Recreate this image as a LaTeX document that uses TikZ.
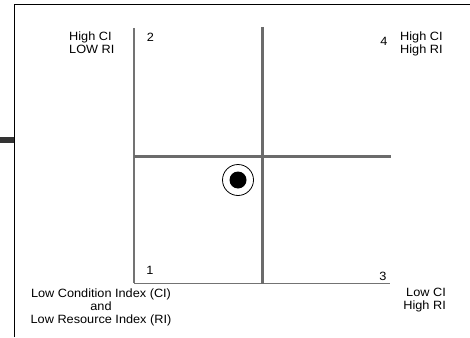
\documentclass[tikz,border=0pt]{standalone}
\usepackage{fontspec}
\setmainfont{Liberation Sans}[FakeStretch=1.06]
\usepackage{tikz}

\begin{document}
\begin{tikzpicture}[x=1pt,y=-1pt,
    label/.style={inner sep=0pt, font=\fontsize{12}{13}\selectfont},
    axis/.style={draw=black!55, line width=1.4pt},
    mid/.style={draw=black!58, line width=2.4pt}]
    \useasboundingbox (0,0) rectangle (470,337);

    % Draw the frame and the small bar on its left side
    \draw[line width=1.3pt] (14.3,337) -- (14.3,4.3) -- (470,4.3);
    \fill[black!80] (0,137) rectangle (14.3,143);

    % Corner points of the chart
    \coordinate (top) at (134,28);
    \coordinate (origin) at (134,283);
    \coordinate (right) at (390,283);
    \coordinate (midtop) at (262.3,27);
    \coordinate (midbot) at (262.3,284);
    \coordinate (midleft) at (134,156.3);
    \coordinate (midright) at (391,156.3);

    % Draw the axes
    \draw[axis] (top) -- (origin);
    \draw[axis, line width=1pt] (origin) -- (right);

    % Draw the lines that split the quadrants
    \draw[mid] (midtop) -- (midbot);
    \draw[mid] (midleft) -- (midright);

    % Draw the marker
    \node[circle, draw, line width=0.8pt, minimum size=31pt, inner sep=0pt] (ring) at (238,180) {};
    \fill (ring.center) circle (8.5);

    % Quadrant numbers
    \node[label] (q2) at (150.5,37) {2};
    \node[label] (q4) at (384,41.5) {4};
    \node[label] (q1) at (150,270) {1};
    \node[label] (q3) at (383,276.5) {3};

    % Quadrant descriptions
    \node[label, anchor=north west, align=left] (tl) at (69,31.3) {High CI\\LOW RI};
    \node[label, anchor=north west, align=left] (tr) at (400,31.3) {High CI\\High RI};
    \node[label, anchor=north, align=center] (bl) at (101,288.3) {Low Condition Index (CI)\\and\\Low Resource Index (RI)};
    \node[label, anchor=north east, align=right] (br) at (446,288.3) {Low CI\\High RI};
\end{tikzpicture}
\end{document}
